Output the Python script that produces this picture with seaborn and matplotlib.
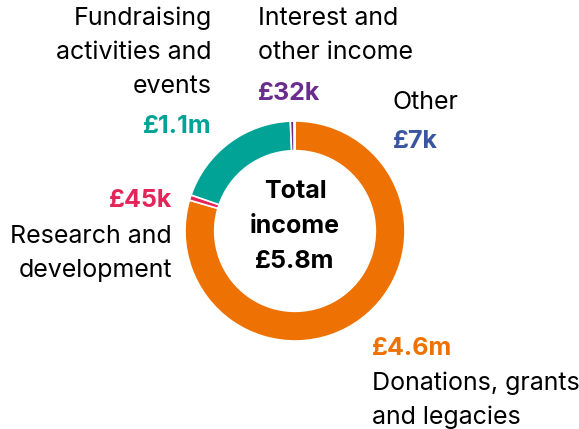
import matplotlib.pyplot as plt
import seaborn as sns

# Income breakdown (GBP)
categories = ["Donations, grants and legacies", "Research and development",
              "Fundraising activities and events", "Interest and other income", "Other"]
values = [4600000, 45000, 1100000, 32000, 7000]
value_labels = ["£4.6m", "£45k", "£1.1m", "£32k", "£7k"]
colors = ["#EE7203", "#E5245A", "#00A396", "#6A2C8E", "#3B56A0"]
total_label = "£5.8m"

sns.set_style("white")
plt.rcParams["font.family"] = ["Inter", "DejaVu Sans"]

W, H = 579, 429
fig = plt.figure(figsize=(W / 100, H / 100), dpi=100)

# donut centred at (295, 231) px, radius 110 px
cx, cy, r = 295, 231, 110
ax = fig.add_axes([(cx - r) / W, 1 - (cy + r) / H, 2 * r / W, 2 * r / H])
ax.pie(values, colors=colors, startangle=90, counterclock=False, radius=1,
       wedgeprops=dict(width=0.27, edgecolor="white", linewidth=1.2))
ax.set_xlim(-1, 1)
ax.set_ylim(-1, 1)
ax.axis("off")


def put(x, y, s, ha="left", color="black", bold=False):
    fig.text(x / W, 1 - y / H, s, ha=ha, va="baseline", fontsize=18,
             color=color, fontweight="bold" if bold else "normal")


# Fundraising
put(212, 25, "Fundraising", ha="right")
put(212, 59, "activities and", ha="right")
put(212, 93, "events", ha="right")
put(212, 133, value_labels[2], ha="right", color=colors[2], bold=True)

# Interest
put(258, 25, "Interest and")
put(258, 59, "other income")
put(258, 100, value_labels[3], color=colors[3], bold=True)

# Other
put(393, 109, "Other")
put(393, 148, value_labels[4], color=colors[4], bold=True)

# Research
put(172, 207, value_labels[1], ha="right", color=colors[1], bold=True)
put(172, 243, "Research and", ha="right")
put(172, 277, "development", ha="right")

# Donations
put(372, 355, value_labels[0], color=colors[0], bold=True)
put(372, 390, "Donations, grants")
put(372, 424, "and legacies")

# Centre
put(cx, 198, "Total", ha="center", bold=True)
put(cx, 233, "income", ha="center", bold=True)
put(cx, 268, total_label, ha="center", bold=True)

fig.savefig("out.png", dpi=100)
